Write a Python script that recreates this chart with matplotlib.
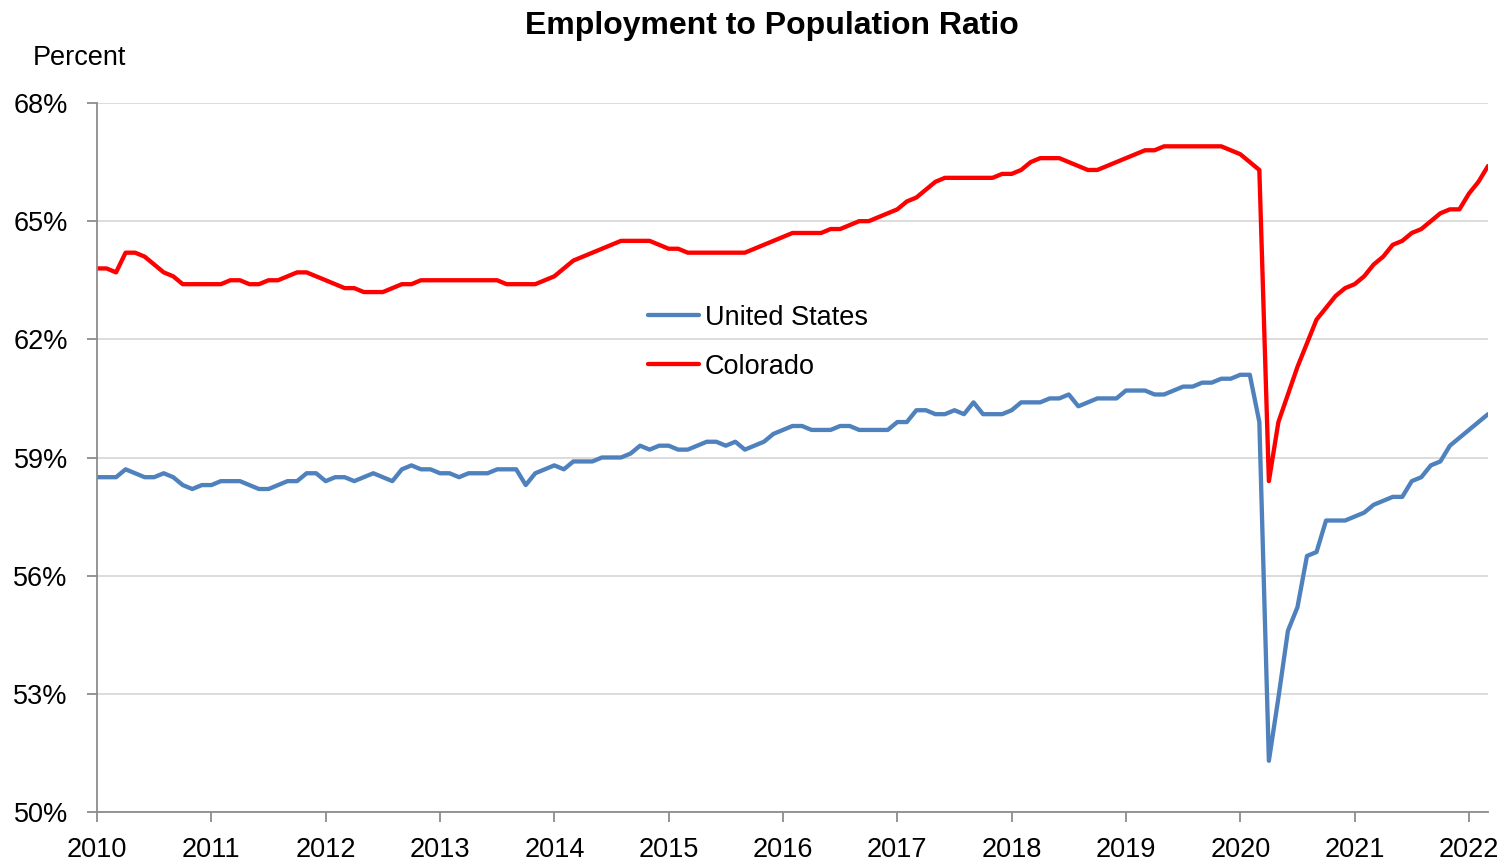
import matplotlib.pyplot as plt
import numpy as np

# monthly employment to population ratio, Jan 2010 .. Mar 2022 (percent)
colorado = [
    # 2010
    63.8, 63.8, 63.7, 64.2, 64.2, 64.1, 63.9, 63.7, 63.6, 63.4, 63.4, 63.4,
    # 2011
    63.4, 63.4, 63.5, 63.5, 63.4, 63.4, 63.5, 63.5, 63.6, 63.7, 63.7, 63.6,
    # 2012
    63.5, 63.4, 63.3, 63.3, 63.2, 63.2, 63.2, 63.3, 63.4, 63.4, 63.5, 63.5,
    # 2013
    63.5, 63.5, 63.5, 63.5, 63.5, 63.5, 63.5, 63.4, 63.4, 63.4, 63.4, 63.5,
    # 2014
    63.6, 63.8, 64.0, 64.1, 64.2, 64.3, 64.4, 64.5, 64.5, 64.5, 64.5, 64.4,
    # 2015
    64.3, 64.3, 64.2, 64.2, 64.2, 64.2, 64.2, 64.2, 64.2, 64.3, 64.4, 64.5,
    # 2016
    64.6, 64.7, 64.7, 64.7, 64.7, 64.8, 64.8, 64.9, 65.0, 65.0, 65.1, 65.2,
    # 2017
    65.3, 65.5, 65.6, 65.8, 66.0, 66.1, 66.1, 66.1, 66.1, 66.1, 66.1, 66.2,
    # 2018
    66.2, 66.3, 66.5, 66.6, 66.6, 66.6, 66.5, 66.4, 66.3, 66.3, 66.4, 66.5,
    # 2019
    66.6, 66.7, 66.8, 66.8, 66.9, 66.9, 66.9, 66.9, 66.9, 66.9, 66.9, 66.8,
    # 2020
    66.7, 66.5, 66.3, 58.4, 59.9, 60.6, 61.3, 61.9, 62.5, 62.8, 63.1, 63.3,
    # 2021
    63.4, 63.6, 63.9, 64.1, 64.4, 64.5, 64.7, 64.8, 65.0, 65.2, 65.3, 65.3,
    # 2022
    65.7, 66.0, 66.4,
]

united_states = [
    # 2010
    58.5, 58.5, 58.5, 58.7, 58.6, 58.5, 58.5, 58.6, 58.5, 58.3, 58.2, 58.3,
    # 2011
    58.3, 58.4, 58.4, 58.4, 58.3, 58.2, 58.2, 58.3, 58.4, 58.4, 58.6, 58.6,
    # 2012
    58.4, 58.5, 58.5, 58.4, 58.5, 58.6, 58.5, 58.4, 58.7, 58.8, 58.7, 58.7,
    # 2013
    58.6, 58.6, 58.5, 58.6, 58.6, 58.6, 58.7, 58.7, 58.7, 58.3, 58.6, 58.7,
    # 2014
    58.8, 58.7, 58.9, 58.9, 58.9, 59.0, 59.0, 59.0, 59.1, 59.3, 59.2, 59.3,
    # 2015
    59.3, 59.2, 59.2, 59.3, 59.4, 59.4, 59.3, 59.4, 59.2, 59.3, 59.4, 59.6,
    # 2016
    59.7, 59.8, 59.8, 59.7, 59.7, 59.7, 59.8, 59.8, 59.7, 59.7, 59.7, 59.7,
    # 2017
    59.9, 59.9, 60.2, 60.2, 60.1, 60.1, 60.2, 60.1, 60.4, 60.1, 60.1, 60.1,
    # 2018
    60.2, 60.4, 60.4, 60.4, 60.5, 60.5, 60.6, 60.3, 60.4, 60.5, 60.5, 60.5,
    # 2019
    60.7, 60.7, 60.7, 60.6, 60.6, 60.7, 60.8, 60.8, 60.9, 60.9, 61.0, 61.0,
    # 2020
    61.1, 61.1, 59.9, 51.3, 52.9, 54.6, 55.2, 56.5, 56.6, 57.4, 57.4, 57.4,
    # 2021
    57.5, 57.6, 57.8, 57.9, 58.0, 58.0, 58.4, 58.5, 58.8, 58.9, 59.3, 59.5,
    # 2022
    59.7, 59.9, 60.1,
]

years = list(range(2010, 2023))
y_ticks = [50, 53, 56, 59, 62, 65, 68]

FONT = ["Liberation Sans Narrow", "Liberation Sans", "DejaVu Sans"]
plt.rcParams["font.family"] = FONT

months = np.arange(len(colorado))

fig = plt.figure(figsize=(15.01, 8.65), dpi=100)
ax = fig.add_axes([97 / 1501, 1 - 812 / 865, (1488 - 97) / 1501, (812 - 103) / 865])

ax.plot(months, united_states, color="#4F81BD", lw=3.1, label="United States",
        solid_joinstyle="round", solid_capstyle="round")
ax.plot(months, colorado, color="#FF0000", lw=3.1, label="Colorado",
        solid_joinstyle="round", solid_capstyle="round")

ax.set_xlim(0, len(colorado) - 1)
ax.set_ylim(50, 68)
ax.set_yticks(y_ticks)
ax.set_yticklabels([f"{v}%" for v in y_ticks])
ax.set_xticks([12 * i for i in range(len(years))])
ax.set_xticklabels([str(y) for y in years])

ax.grid(axis="y", color="#D9D9D9", lw=1.3)
ax.set_axisbelow(True)
for side in ("top", "right"):
    ax.spines[side].set_visible(False)
for side in ("left", "bottom"):
    ax.spines[side].set_color("#8C8C8C")
    ax.spines[side].set_linewidth(1.3)
ax.tick_params(axis="both", colors="#8C8C8C", length=7, width=1.3, labelsize=19.5,
               labelcolor="black")
ax.tick_params(axis="y", pad=14)
ax.tick_params(axis="x", pad=11)

leg = ax.legend(loc="upper left", bbox_to_anchor=(629 / 1501, 1 - 286 / 865),
                bbox_transform=fig.transFigure, frameon=False, fontsize=19.5,
                handlelength=1.9, handletextpad=0.2, labelspacing=0.85,
                borderpad=0.2)

fig.text(772 / 1501, 1 - 26 / 865, "Employment to Population Ratio", ha="center",
         va="center", fontsize=23, fontweight="bold")
fig.text(33 / 1501, 1 - 58 / 865, "Percent", ha="left", va="center", fontsize=19.5)

fig.savefig("out.png", dpi=100)
